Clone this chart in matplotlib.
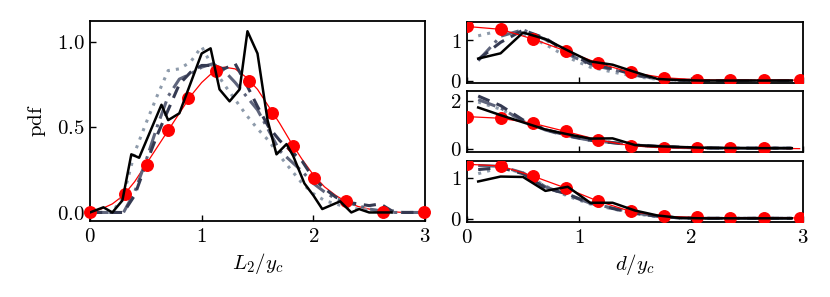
import matplotlib
matplotlib.use("Agg")
import matplotlib.pyplot as plt
from matplotlib.ticker import FuncFormatter

plt.rcParams['mathtext.fontset'] = 'cm'
plt.rcParams['font.family'] = ['DejaVu Serif']
plt.rcParams['font.size'] = 15

# ---------------- Left panel: pdf of L2/yc ----------------
L_fit_x = [0.0, 0.1, 0.2, 0.3, 0.4, 0.5, 0.6, 0.7, 0.8, 0.9, 1.0, 1.1, 1.2, 1.3, 1.4,
           1.5, 1.6, 1.7, 1.8, 1.9, 2.0, 2.1, 2.2, 2.3, 2.4, 2.5, 2.6, 2.7, 2.8, 3.0]
L_fit_y = [0.0, 0.02, 0.05, 0.10, 0.18, 0.28, 0.38, 0.48, 0.58, 0.68, 0.76, 0.82, 0.85,
           0.84, 0.79, 0.72, 0.62, 0.52, 0.41, 0.31, 0.22, 0.15, 0.10, 0.06, 0.035,
           0.02, 0.01, 0.005, 0.0, 0.0]
L_mark_x = [0.0, 0.31, 0.51, 0.70, 0.88, 1.13, 1.42, 1.63, 1.82, 2.01, 2.29, 2.62, 2.99]
L_mark_y = [0.0, 0.106, 0.28, 0.48, 0.67, 0.83, 0.77, 0.58, 0.39, 0.20, 0.065, 0.0, 0.0]

L_black_x = [0.0, 0.12, 0.20, 0.29, 0.37, 0.44, 0.64, 0.70, 0.80, 1.00, 1.08, 1.16, 1.25,
             1.34, 1.41, 1.50, 1.59, 1.67, 1.76, 1.82, 1.92, 2.00, 2.08, 2.24, 2.34,
             2.41, 2.50, 2.70]
L_black_y = [0.0, 0.03, 0.0, 0.07, 0.34, 0.32, 0.63, 0.54, 0.58, 0.93, 0.96, 0.72, 0.65,
             0.72, 1.06, 0.93, 0.54, 0.34, 0.40, 0.33, 0.17, 0.10, 0.02, 0.065, 0.0,
             0.02, 0.0, 0.0]

L_grid_x = [0.0, 0.1, 0.2, 0.3, 0.4, 0.5, 0.6, 0.7, 0.8, 0.9, 1.0, 1.1, 1.2, 1.3, 1.4,
            1.5, 1.6, 1.7, 1.8, 1.9, 2.0, 2.1, 2.2, 2.3, 2.4, 2.5, 2.6, 2.7, 2.8, 3.0]
L_dash_y = [0.0, 0.0, 0.0, 0.0, 0.10, 0.28, 0.45, 0.60, 0.75, 0.82, 0.86, 0.86, 0.84,
            0.87, 0.75, 0.62, 0.50, 0.42, 0.36, 0.30, 0.20, 0.14, 0.09, 0.06, 0.05,
            0.04, 0.05, 0.01, 0.0, 0.0]
L_dashdot_y = [0.0, 0.0, 0.0, 0.0, 0.12, 0.30, 0.50, 0.68, 0.78, 0.81, 0.85, 0.87, 0.83,
               0.76, 0.68, 0.60, 0.48, 0.36, 0.30, 0.24, 0.17, 0.12, 0.08, 0.06, 0.04,
               0.02, 0.01, 0.0, 0.0, 0.0]
L_dot_y = [0.0, 0.0, 0.0, 0.10, 0.35, 0.52, 0.68, 0.83, 0.84, 0.88, 0.97, 0.85, 0.75,
           0.66, 0.57, 0.49, 0.42, 0.33, 0.25, 0.17, 0.11, 0.07, 0.05, 0.03, 0.02,
           0.015, 0.01, 0.0, 0.0, 0.0]

# ---------------- Right panels: pdf of d/yc ----------------
R_mark_x = [0.0, 0.30, 0.59, 0.88, 1.17, 1.46, 1.76, 2.05, 2.35, 2.65, 2.97]
R1_mark_y = [1.34, 1.27, 1.03, 0.74, 0.44, 0.21, 0.08, 0.03, 0.02, 0.02, 0.02]
R2_mark_y = [1.34, 1.27, 1.06, 0.72, 0.37, 0.12, 0.04, 0.02, 0.02, 0.02, 0.0]
R3_mark_y = [1.33, 1.29, 1.04, 0.75, 0.43, 0.18, 0.06, 0.03, 0.02, 0.02, 0.02]
R_mark_count = [11, 10, 11]

R_x = [0.1, 0.3, 0.5, 0.7, 0.9, 1.1, 1.3, 1.5, 1.7, 1.9, 2.1, 2.3, 2.5, 2.7, 2.9]
R1_black = [0.55, 0.68, 1.19, 1.03, 0.75, 0.48, 0.40, 0.22, 0.05, 0.02, 0.01, 0.01, 0.01, 0.01, 0.01]
R1_dash = [0.53, 0.95, 1.25, 1.05, 0.70, 0.42, 0.30, 0.15, 0.06, 0.02, 0.01, 0.01, 0.01, 0.01, 0.01]
R1_dashdot = [0.50, 1.10, 1.26, 1.02, 0.66, 0.40, 0.28, 0.14, 0.05, 0.02, 0.01, 0.01, 0.01, 0.01, 0.01]
R1_dot = [1.11, 1.24, 1.15, 0.90, 0.58, 0.34, 0.22, 0.11, 0.04, 0.02, 0.01, 0.01, 0.01, 0.01, 0.01]

R2_black = [1.72, 1.40, 1.10, 0.80, 0.60, 0.42, 0.43, 0.15, 0.10, 0.07, 0.04, 0.03, 0.02, 0.02, 0.02]
R2_dash = [2.20, 1.80, 1.20, 0.80, 0.55, 0.35, 0.25, 0.15, 0.10, 0.06, 0.03, 0.02, 0.02, 0.02, 0.02]
R2_dashdot = [2.05, 1.70, 1.15, 0.78, 0.52, 0.35, 0.25, 0.15, 0.09, 0.05, 0.03, 0.02, 0.02, 0.02, 0.02]
R2_dot = [1.95, 1.65, 1.15, 0.80, 0.55, 0.36, 0.25, 0.14, 0.08, 0.05, 0.03, 0.02, 0.02, 0.02, 0.02]

R3_black = [0.91, 1.03, 1.02, 0.68, 0.78, 0.39, 0.39, 0.20, 0.08, 0.02, 0.01, 0.01, 0.01, 0.01, 0.01]
R3_dash = [1.20, 1.25, 1.10, 0.75, 0.60, 0.38, 0.25, 0.13, 0.06, 0.02, 0.01, 0.01, 0.01, 0.01, 0.01]
R3_dashdot = [1.30, 1.28, 1.12, 0.78, 0.58, 0.38, 0.26, 0.14, 0.06, 0.02, 0.01, 0.01, 0.01, 0.01, 0.01]
R3_dot = [1.10, 1.25, 1.12, 0.80, 0.55, 0.36, 0.24, 0.12, 0.05, 0.02, 0.01, 0.01, 0.01, 0.01, 0.01]

C_DASH = '#353a52'
C_DASHDOT = '#5f657c'
C_DOT = '#8e9bab'
RED = '#ff0000'

W, H = 830, 297
fig = plt.figure(figsize=(W / 100, H / 100), dpi=100)

def frac(x0, y0, x1, y1):
    return [x0 / W, 1 - y1 / H, (x1 - x0) / W, (y1 - y0) / H]

math_fmt1 = FuncFormatter(lambda v, p: rf'${v:.1f}$')
math_fmt0 = FuncFormatter(lambda v, p: rf'${v:.0f}$')

def style(ax):
    ax.tick_params(direction='in', length=4, width=1, labelsize=15, pad=4)
    for s in ax.spines.values():
        s.set_linewidth(1.3)

def draw_grays(ax, x, yd, ydd, yt):
    ax.plot(x, yt, color=C_DOT, lw=2.2, ls=(0, (1, 2)))
    ax.plot(x, ydd, color=C_DASHDOT, lw=2.2, ls=(0, (6, 2, 1, 2)))
    ax.plot(x, yd, color=C_DASH, lw=2.2, ls=(0, (4, 2.5)))

# Left
axL = fig.add_axes(frac(90, 21, 425, 221))
axL.plot(L_fit_x, L_fit_y, color=RED, lw=0.9)
axL.plot(L_mark_x, L_mark_y, 'o', color=RED, ms=8.3, lw=0, clip_on=False, zorder=3)
draw_grays(axL, L_grid_x, L_dash_y, L_dashdot_y, L_dot_y)
axL.plot(L_black_x, L_black_y, color='black', lw=1.8, zorder=4)
axL.set_xlim(0, 3)
axL.set_ylim(-0.05, 1.12)
axL.set_xticks([0, 1, 2, 3])
axL.set_yticks([0.0, 0.5, 1.0])
axL.xaxis.set_major_formatter(math_fmt0)
axL.yaxis.set_major_formatter(math_fmt1)
axL.set_xlabel(r'$L_2/y_c$', fontsize=15, labelpad=4)
axL.set_ylabel(r'$\mathrm{pdf}$', fontsize=15, labelpad=6)
style(axL)

# Right panels
panels = [
    ((22, 83), R1_mark_y, R1_black, R1_dash, R1_dashdot, R1_dot, (-0.05, 1.45), [0, 1]),
    ((91, 152), R2_mark_y, R2_black, R2_dash, R2_dashdot, R2_dot, (-0.14, 2.41), [0, 2]),
    ((161, 222), R3_mark_y, R3_black, R3_dash, R3_dashdot, R3_dot, (-0.08, 1.41), [0, 1]),
]
for i, ((y0, y1), my, yb, yd, ydd, yt, ylim, yt_ticks) in enumerate(panels):
    ax = fig.add_axes(frac(467, y0, 803, y1))
    ax.plot(R_mark_x, my, color=RED, lw=0.9, marker='o', ms=8.3, zorder=3,
            markevery=list(range(R_mark_count[i])))
    draw_grays(ax, R_x, yd, ydd, yt)
    ax.plot(R_x, yb, color='black', lw=1.8, zorder=4)
    ax.set_xlim(0, 3)
    ax.set_ylim(*ylim)
    ax.set_xticks([0, 1, 2, 3])
    ax.set_yticks(yt_ticks)
    ax.yaxis.set_major_formatter(math_fmt0)
    ax.xaxis.set_major_formatter(math_fmt0)
    if i < 2:
        ax.tick_params(labelbottom=False)
    else:
        ax.set_xlabel(r'$d/y_c$', fontsize=15, labelpad=4)
    style(ax)

fig.savefig('out.png', dpi=100)
